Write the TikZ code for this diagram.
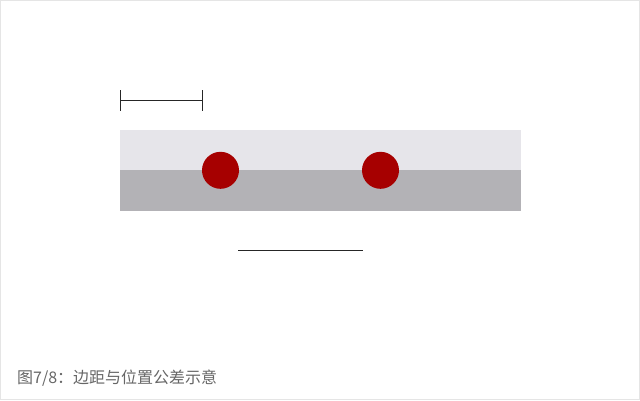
\documentclass[tikz,border=0pt]{standalone}
\usepackage{fontspec}
\usepackage{xcolor}
\usetikzlibrary{positioning, calc}
\newfontfamily\cjk{Noto Sans CJK SC}
\definecolor{barlight}{RGB}{230, 229, 234}
\definecolor{bardark}{RGB}{179, 178, 182}
\definecolor{holered}{RGB}{166, 0, 0}
\definecolor{framegray}{RGB}{229, 229, 229}
\definecolor{captiongray}{RGB}{102, 102, 102}

\begin{document}
\begin{tikzpicture}[
    x=1pt, y=-1pt,
    band/.style={rectangle, draw=none, inner sep=0pt, minimum width=401pt, anchor=north west},
    hole/.style={circle, fill=holered, draw=none, inner sep=0pt, minimum size=37pt},
    dimline/.style={line width=1pt, draw=black!85},
    caption/.style={anchor=west, inner sep=0pt, text=captiongray, font=\cjk\fontsize{16pt}{18pt}\selectfont}
]

% Frame
\draw[framegray, line width=1pt] (0.5,0.5) rectangle (639.5,399.5);
\useasboundingbox (0,0) rectangle (640,400);

% Bar (dark band underneath, light band over its top half)
\node[band, fill=bardark, minimum height=80.7pt] (lower) at (120,130) {};
\node[band, fill=barlight, minimum height=40pt] (upper) at (lower.north west) {};

% Holes
\node[hole] (hole1) at (220.5,170.3) {};
\node[hole] (hole2) at (380.5,170.3) {};

% Edge distance
\coordinate (edgeL) at (120.3,100.3);
\coordinate (edgeR) at (202.3,100.3);
\draw[dimline] (edgeL) -- (edgeR);
\draw[dimline] ($(edgeL)+(0,-10.3)$) -- ($(edgeL)+(0,10.3)$);
\draw[dimline] ($(edgeR)+(0,-10.3)$) -- ($(edgeR)+(0,10.3)$);

% Hole spacing
\coordinate (pitchL) at (238.3,250.3);
\coordinate (pitchR) at (362.7,250.3);
\draw[dimline] (pitchL) -- (pitchR);

% Caption
\node[caption] (cap) at (17,378) {图7/8：边距与位置公差示意};

\end{tikzpicture}
\end{document}
